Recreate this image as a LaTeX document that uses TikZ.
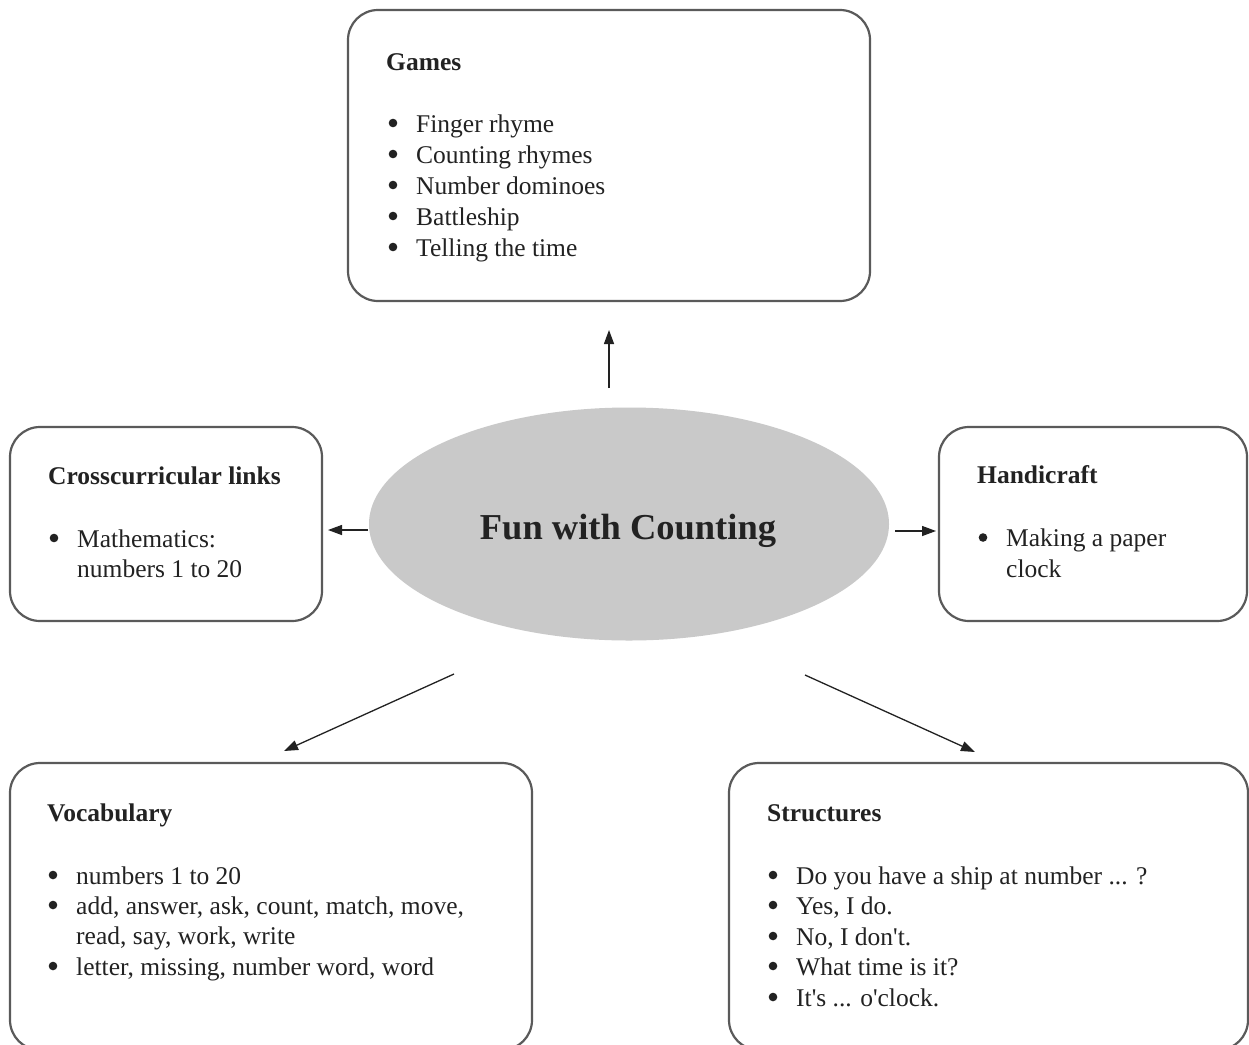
\documentclass[tikz,border=0pt]{standalone}
\usepackage{fontspec}
\setmainfont{Liberation Serif}[Ligatures=TeXOff]
\usetikzlibrary{shapes.geometric,arrows.meta}
\definecolor{boxline}{HTML}{5A5A5A}
\definecolor{ellfill}{HTML}{C9C9C9}
\definecolor{ink}{HTML}{222222}
% bullet item: name, x (of bullet column), baseline y, text
\newcommand{\bitem}[4]{%
  \node[itm] (#1) at (#2+29,#3) {#4};
  \node[dotbul] (#1b) at (#2+6,#3-9) {};}
\begin{document}
\begin{tikzpicture}[x=1pt,y=-1pt,
  box/.style={draw=boxline,line width=2.2pt,rounded corners=30pt,inner sep=0pt,rectangle},
  ttl/.style={anchor=base west,inner sep=0pt,font=\fontsize{25.5}{30}\selectfont\bfseries,text=ink},
  itm/.style={anchor=base west,inner sep=0pt,font=\fontsize{25.5}{30}\selectfont,text=ink},
  dotbul/.style={circle,fill=ink,draw=none,inner sep=0pt,minimum size=8.6pt},
  arr/.style={draw=ink,line width=1.3pt,-{Triangle[length=14pt,width=10pt]}}]
\useasboundingbox (0,0) rectangle (1249,1044);
\clip (0,0) rectangle (1249,1044);
\fill[white] (0,0) rectangle (1249,1044);

% centre
\node[ellipse,fill=ellfill,draw=none,minimum width=520pt,minimum height=233pt,inner sep=0pt] (ell) at (629,524) {};
\node[anchor=base,inner sep=0pt,font=\fontsize{36.5}{40}\selectfont\bfseries,text=ink] (center) at (628,539) {Fun with Counting};

% boxes
\node[box,minimum width=522pt,minimum height=291pt] (games) at (609,155.5) {};
\node[box,minimum width=312pt,minimum height=194pt] (cross) at (166,524) {};
\node[box,minimum width=308pt,minimum height=194pt] (handi) at (1093,524) {};
\node[box,minimum width=522pt,minimum height=287pt] (vocab) at (271,906.5) {};
\node[box,minimum width=519pt,minimum height=287pt] (struct) at (988.5,906.5) {};

% Games
\node[ttl] (gt) at (386,70) {Games};
\bitem{g1}{387}{132}{Finger rhyme}
\bitem{g2}{387}{163}{Counting rhymes}
\bitem{g3}{387}{194}{Number dominoes}
\bitem{g4}{387}{225}{Battleship}
\bitem{g5}{387}{256}{Telling the time}

% Crosscurricular
\node[ttl] (ct) at (48,484) {Crosscurricular links};
\bitem{c1}{48}{547}{Mathematics:}
\node[itm] (c2) at (77,577) {numbers 1 to 20};

% Handicraft
\node[ttl] (ht) at (977,483.5) {Handicraft};
\bitem{h1}{977}{546.5}{Making a paper}
\node[itm] (h2) at (1006,577) {clock};

% Vocabulary
\node[ttl] (vt) at (47,821) {Vocabulary};
\bitem{v1}{47}{884}{numbers 1 to 20}
\bitem{v2}{47}{914}{add, answer, ask, count, match, move,}
\node[itm] (v3) at (76,944) {read, say, work, write};
\bitem{v4}{47}{975}{letter, missing, number word, word}

% Structures
\node[ttl] (st) at (767,821) {Structures};
\bitem{s1}{767}{884}{Do you have a ship at number ... ?}
\bitem{s2}{767}{914}{Yes, I do.}
\bitem{s3}{767}{945}{No, I don't.}
\bitem{s4}{767}{975}{What time is it?}
\bitem{s5}{767}{1006}{It's ... o'clock.}

% arrows
\coordinate (u1) at (609,388);  \coordinate (u2) at (609,330);
\coordinate (l1) at (368,530);  \coordinate (l2) at (328,530);
\coordinate (r1) at (895,531);  \coordinate (r2) at (936,531);
\coordinate (dl1) at (454,674); \coordinate (dl2) at (284,751);
\coordinate (dr1) at (805,675); \coordinate (dr2) at (975,752);
\draw[arr] (u1) -- (u2);
\draw[arr] (l1) -- (l2);
\draw[arr] (r1) -- (r2);
\draw[arr] (dl1) -- (dl2);
\draw[arr] (dr1) -- (dr2);
\end{tikzpicture}
\end{document}
